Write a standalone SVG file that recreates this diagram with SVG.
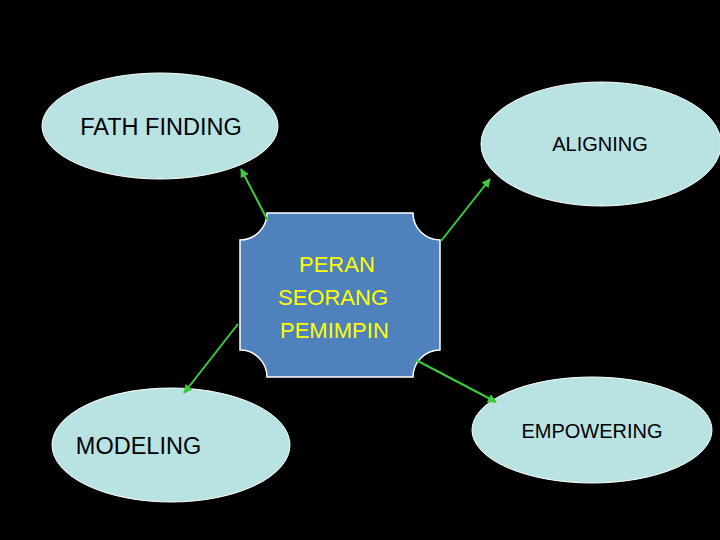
<svg xmlns="http://www.w3.org/2000/svg" width="720" height="540" viewBox="0 0 720 540">
<style>
.node ellipse{fill:#B9E3E3;stroke:#FFFFFF;stroke-width:1}
.lbl{font-family:"Liberation Sans",Arial,sans-serif;fill:#000000}
.ctr{font-family:"Liberation Sans",Arial,sans-serif;fill:#FFFF00;font-size:22px}
.conn line{stroke:#3CCB3C;stroke-width:2;marker-end:url(#ah)}
</style>
<defs>
<marker id="ah" viewBox="0 0 10 10" refX="9" refY="5" markerWidth="4.5" markerHeight="4.5" orient="auto" markerUnits="strokeWidth">
<path d="M0,0 L10,5 L0,10 Z" fill="#3CCB3C"/>
</marker>
</defs>
<rect width="720" height="540" fill="#000000"/>
<g id="fath-finding" class="node">
<ellipse cx="160" cy="126" rx="118" ry="53"/>
<text class="lbl" x="161" y="135" font-size="23.5" text-anchor="middle">FATH FINDING</text>
</g>
<g id="aligning" class="node">
<ellipse cx="601" cy="144" rx="120" ry="62"/>
<text class="lbl" x="600" y="151" font-size="20" text-anchor="middle">ALIGNING</text>
</g>
<g id="modeling" class="node">
<ellipse cx="171" cy="445" rx="119" ry="57"/>
<text class="lbl" x="138.5" y="454" font-size="23.5" text-anchor="middle">MODELING</text>
</g>
<g id="empowering" class="node">
<ellipse cx="592" cy="430" rx="120" ry="53"/>
<text class="lbl" x="592" y="438" font-size="20" text-anchor="middle">EMPOWERING</text>
</g>
<g id="peran" class="node">
<path d="M267,213 L413,213 A27,27 0 0 0 440,240 L440,350 A27,27 0 0 0 413,377 L267,377 A27,27 0 0 0 240,350 L240,240 A27,27 0 0 0 267,213 Z" fill="#4F81BD" stroke="#FFFFFF" stroke-width="1.5"/>
<text class="ctr" x="299" y="272">PERAN</text>
<text class="ctr" x="278" y="305">SEORANG</text>
<text class="ctr" x="280" y="338">PEMIMPIN</text>
</g>
<g id="connectors" class="conn">
<line x1="268" y1="221" x2="241" y2="169"/>
<line x1="441" y1="241" x2="490" y2="179"/>
<line x1="238" y1="324" x2="184" y2="393"/>
<line x1="416" y1="360" x2="496" y2="402"/>
</g>
</svg>
